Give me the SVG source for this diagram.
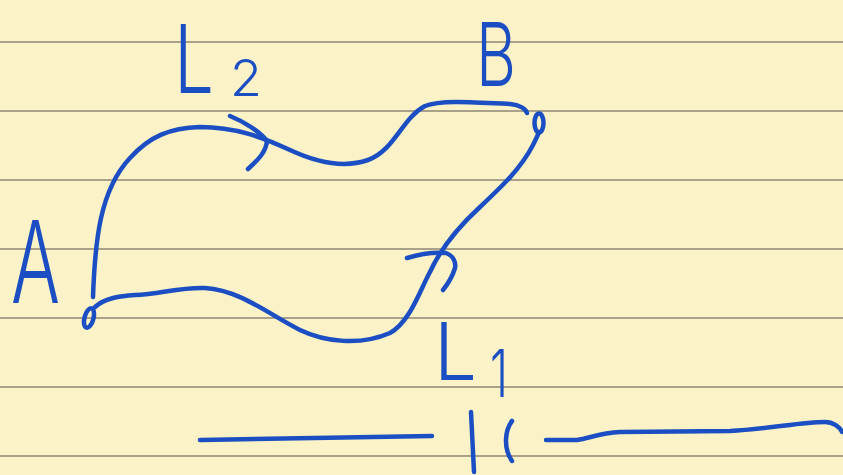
<svg xmlns="http://www.w3.org/2000/svg" width="843" height="475" viewBox="0 0 843 475">
<style>
.ink{fill:none;stroke:#1b4ec2;stroke-width:4.5;stroke-linecap:round;stroke-linejoin:round}
.rule{stroke:#a9a189;stroke-width:2}
.lbl{font-family:"Inter","DejaVu Sans","Liberation Sans",sans-serif;font-weight:300;fill:#1b4ec2}
</style>
<rect width="843" height="475" fill="#fbf3c7"/>
<g id="paper-rules">
<line class="rule" x1="0" y1="42" x2="843" y2="42"/>
<line class="rule" x1="0" y1="111" x2="843" y2="111"/>
<line class="rule" x1="0" y1="180" x2="843" y2="180"/>
<line class="rule" x1="0" y1="249" x2="843" y2="249"/>
<line class="rule" x1="0" y1="318" x2="843" y2="318"/>
<line class="rule" x1="0" y1="387" x2="843" y2="387"/>
<line class="rule" x1="0" y1="456" x2="843" y2="456"/>
</g>
<g id="connectors">
<path class="ink" d="M 93 297 C 95 240, 100 190, 130 158 C 150 136, 170 128, 200 127 C 235 127, 262 137, 290 150 C 320 164, 345 168, 368 160 C 395 150, 402 118, 425 106 C 440 100, 470 102, 510 104 C 520 105, 526 109, 527 113"/>
<path class="ink" d="M 230 116 C 245 122, 260 132, 267 141 C 266 152, 258 160, 248 169"/>
<path class="ink" d="M 95 307 C 105 298, 120 296, 135 295 C 160 294, 180 287, 205 288 C 240 290, 270 315, 300 330 C 325 342, 360 346, 390 333 C 410 322, 420 290, 430 272 C 440 250, 455 230, 480 207 C 500 188, 520 170, 533 145 C 536 139, 538 135, 539 132"/>
<path class="ink" d="M 407 258 C 420 254, 435 252, 446 253 C 454 256, 456 263, 455 268 C 452 278, 447 285, 443 290"/>
</g>
<g id="node-A">
<ellipse class="ink" cx="89" cy="318" rx="4.5" ry="10" transform="rotate(15 89 318)"/>
<text class="lbl" x="11" y="303" font-size="114" textLength="49" lengthAdjust="spacingAndGlyphs">A</text>
</g>
<g id="node-B">
<ellipse class="ink" cx="539" cy="123" rx="4.5" ry="9.5" stroke-width="3.5"/>
<text class="lbl" x="476" y="86" font-size="88" textLength="40" lengthAdjust="spacingAndGlyphs">B</text>
</g>
<g id="label-L2">
<text class="lbl" x="174" y="93" font-size="95" textLength="40" lengthAdjust="spacingAndGlyphs">L</text>
<text class="lbl" x="230" y="96" font-size="50" textLength="32" lengthAdjust="spacingAndGlyphs">2</text>
</g>
<g id="label-L1">
<text class="lbl" x="434" y="380" font-size="80" textLength="43" lengthAdjust="spacingAndGlyphs">L</text>
<text class="lbl" x="490" y="397" font-size="66" textLength="18" lengthAdjust="spacingAndGlyphs">1</text>
</g>
<g id="capacitor">
<path class="ink" d="M 200 440 C 300 439, 380 437, 432 436"/>
<path class="ink" d="M 471 412 C 472 430, 473 450, 474 472"/>
<path class="ink" d="M 512 421 C 505 430, 503 448, 512 461"/>
<path class="ink" d="M 546 440 L 577 440 C 590 438, 600 433, 620 432 L 730 431 C 770 429, 800 422, 825 422 C 833 422, 840 427, 842 432"/>
</g>
</svg>
